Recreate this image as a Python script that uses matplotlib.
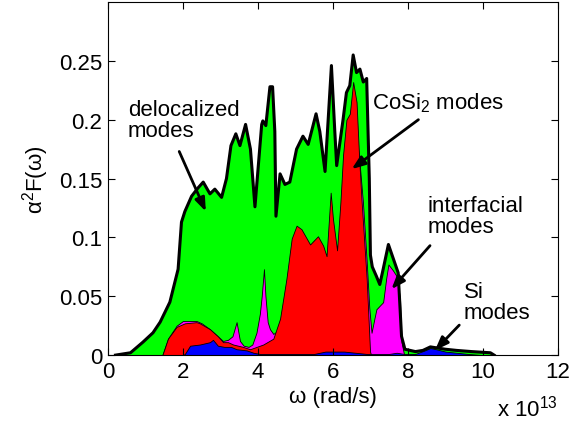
import numpy as np
import matplotlib
matplotlib.use('Agg')
import matplotlib.pyplot as plt

plt.rcParams['font.family'] = ['Liberation Sans', 'DejaVu Sans']
plt.rcParams['mathtext.fontset'] = 'custom'
plt.rcParams['mathtext.rm'] = 'Liberation Sans'
plt.rcParams['mathtext.it'] = 'Liberation Sans:italic'

# omega in units of 1e13 rad/s; each layer is the upper edge of the stacked area

# total (delocalized on top)
tot_w = [0.2, 0.6, 0.93, 1.2, 1.39, 1.65, 1.87, 1.96, 2.05, 2.23, 2.4, 2.54, 2.72, 2.85, 3.03,
         3.16, 3.28, 3.41, 3.52, 3.67, 3.8, 3.92, 4.1, 4.13, 4.21, 4.32, 4.39, 4.45, 4.48, 4.59,
         4.72, 4.85, 5.03, 5.2, 5.34, 5.55, 5.65, 5.79, 5.96, 6.05, 6.1, 6.27, 6.36, 6.45, 6.54,
         6.63, 6.72, 6.81, 6.9, 6.97, 7.0, 7.05, 7.16, 7.25, 7.34, 7.48, 7.61, 7.74, 7.83, 7.92,
         8.2, 8.4, 8.6, 8.8, 9.0, 9.3, 9.7, 10.2, 10.3]
tot_a = [0, 0.002, 0.011, 0.019, 0.028, 0.045, 0.073, 0.113, 0.122, 0.135, 0.142, 0.147, 0.137, 0.141, 0.134,
         0.15, 0.178, 0.188, 0.178, 0.196, 0.175, 0.126, 0.196, 0.199, 0.195, 0.228, 0.228, 0.19, 0.118, 0.154,
         0.145, 0.147, 0.175, 0.186, 0.179, 0.205, 0.19, 0.156, 0.246, 0.19, 0.161, 0.2, 0.223, 0.229, 0.255,
         0.24, 0.243, 0.232, 0.235, 0.15, 0.085, 0.075, 0.067, 0.06, 0.073, 0.094, 0.082, 0.07, 0.016, 0.005,
         0.003, 0.004, 0.007, 0.006, 0.005, 0.004, 0.003, 0.002, 0]

# interfacial
int_w = [1.45, 1.6, 1.83, 2.0, 2.2, 2.36, 2.5, 2.72, 2.93, 3.07, 3.2, 3.32, 3.43, 3.52, 3.62, 3.75,
         3.85, 3.96, 4.05, 4.1, 4.16, 4.2, 4.26, 4.32, 4.41, 4.5, 4.6, 5.0, 6.0, 6.5, 6.62, 6.72,
         6.8, 6.9, 6.97, 7.03, 7.1, 7.16, 7.25, 7.34, 7.42, 7.48, 7.6, 7.7, 7.79, 7.83, 7.9]
int_a = [0, 0.014, 0.025, 0.029, 0.029, 0.029, 0.027, 0.022, 0.016, 0.012, 0.013, 0.016, 0.028, 0.012, 0.008, 0.007,
         0.009, 0.019, 0.035, 0.05, 0.073, 0.05, 0.028, 0.022, 0.018, 0.02, 0.03, 0.05, 0.05, 0.05, 0.19, 0.16,
         0.13, 0.08, 0.04, 0.019, 0.03, 0.039, 0.042, 0.045, 0.065, 0.077, 0.072, 0.067, 0.048, 0.011, 0]

# CoSi2
cos_w = [1.45, 1.6, 1.83, 2.05, 2.36, 2.45, 2.72, 2.93, 3.07, 3.2, 3.34, 3.6, 3.79, 4.14, 4.41, 4.59,
         4.76, 4.9, 5.03, 5.16, 5.39, 5.6, 5.74, 5.83, 5.94, 6.0, 6.11, 6.2, 6.27, 6.36, 6.45, 6.54,
         6.63, 6.7, 6.76, 6.9, 6.99, 7.02]
cos_a = [0, 0.014, 0.024, 0.027, 0.028, 0.027, 0.022, 0.016, 0.011, 0.011, 0.009, 0.007, 0.005, 0.009, 0.014, 0.031,
         0.065, 0.099, 0.11, 0.107, 0.094, 0.101, 0.093, 0.084, 0.138, 0.116, 0.089, 0.13, 0.17, 0.2, 0.205, 0.232,
         0.215, 0.167, 0.133, 0.065, 0.003, 0]

# Si
si_w = [2.0, 2.05, 2.19, 2.45, 2.72, 2.8, 2.93, 3.1, 3.28, 3.43, 3.7, 3.88, 4.05, 4.5, 5.5, 5.8,
        6.0, 6.3, 6.6, 6.9, 7.2, 7.5, 7.7, 7.9, 8.2, 8.45, 8.6, 8.75, 9.0, 9.3, 9.6, 10.0]
si_a = [0, 0.001, 0.008, 0.009, 0.011, 0.013, 0.008, 0.007, 0.007, 0.005, 0.004, 0.002, 0.001, 0.001, 0.001, 0.003,
        0.003, 0.003, 0.002, 0.001, 0.001, 0.001, 0.002, 0.001, 0.001, 0.004, 0.006, 0.005, 0.003, 0.002, 0.001, 0]

fig = plt.figure(figsize=(5.76, 4.27), dpi=100)
ax = fig.add_axes([0.1875, 0.166, 0.781, 0.827])

ax.fill_between(tot_w, 0, tot_a, color='#00ff00', lw=0)
ax.fill_between(int_w, 0, int_a, facecolor='#ff00ff', edgecolor='k', lw=0.6)
ax.fill_between(cos_w, 0, cos_a, facecolor='#ff0000', edgecolor='k', lw=0.6)
ax.fill_between(si_w, 0, si_a, facecolor='#0000ff', edgecolor='k', lw=0.6)
ax.plot(tot_w, tot_a, color='k', lw=2.2)

fs = 16
arr = dict(arrowstyle='-|>,head_length=0.8,head_width=0.3', color='k', lw=2, shrinkA=0, shrinkB=0)

ax.text(0.53, 0.2, 'delocalized\nmodes', fontsize=fs, ha='left', va='center', linespacing=1.0)
ax.annotate('', xy=(2.61, 0.122), xytext=(1.9, 0.173), arrowprops=arr)

ax.text(7.04, 0.215, 'CoSi$_2$ modes', fontsize=fs, ha='left', va='center')
ax.annotate('', xy=(6.5, 0.158), xytext=(8.28, 0.2), arrowprops=arr)

ax.text(8.53, 0.118, 'interfacial\nmodes', fontsize=fs, ha='left', va='center', linespacing=1.0)
ax.annotate('', xy=(7.56, 0.056), xytext=(8.59, 0.093), arrowprops=arr)

ax.text(9.49, 0.045, 'Si\nmodes', fontsize=fs, ha='left', va='center', linespacing=1.0)
ax.annotate('', xy=(8.72, 0.004), xytext=(9.37, 0.0255), arrowprops=arr)

ax.set_xlim(0, 12)
ax.set_ylim(0, 0.3)
ax.set_xticks(np.arange(0, 13, 2))
ax.set_yticks([0, 0.05, 0.1, 0.15, 0.2, 0.25])
ax.set_yticklabels(['0', '0.05', '0.1', '0.15', '0.2', '0.25'])
ax.tick_params(direction='in', top=True, right=True, length=5, labelsize=fs, pad=4)
ax.set_xlabel('ω (rad/s)', fontsize=fs, labelpad=3)
ax.set_ylabel('α$^2$F(ω)', fontsize=fs, labelpad=6)
ax.text(1.0, -0.172, 'x 10$^{13}$', transform=ax.transAxes, fontsize=fs, ha='right', va='baseline')

fig.savefig('out.png', dpi=100)
